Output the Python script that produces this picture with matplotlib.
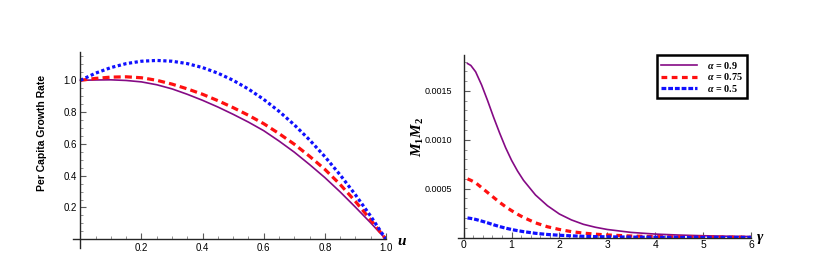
import numpy as np
import matplotlib
matplotlib.use('Agg')
import matplotlib.pyplot as plt
from matplotlib.ticker import FixedLocator, FixedFormatter

plt.rcParams['font.family'] = ['Liberation Sans', 'DejaVu Sans']
plt.rcParams['mathtext.fontset'] = 'custom'
plt.rcParams['mathtext.it'] = 'Liberation Serif:italic:bold'
plt.rcParams['mathtext.rm'] = 'Liberation Serif:bold'
plt.rcParams['mathtext.bf'] = 'Liberation Serif:bold'

# left panel: per capita growth rate vs u
u = [0.0, 0.05, 0.1, 0.15, 0.2, 0.25, 0.3, 0.35, 0.4, 0.45, 0.5,
     0.55, 0.6, 0.65, 0.7, 0.75, 0.8, 0.85, 0.9, 0.95, 1.0]
growth_09 = [1.0, 1.002, 1.003, 0.999, 0.99, 0.972, 0.946, 0.912, 0.874, 0.832, 0.786,
             0.737, 0.683, 0.618, 0.548, 0.47, 0.388, 0.298, 0.202, 0.103, 0.0]
growth_075 = [1.0, 1.012, 1.02, 1.022, 1.016, 1.0, 0.976, 0.946, 0.912, 0.872, 0.828,
              0.78, 0.727, 0.665, 0.598, 0.522, 0.44, 0.345, 0.238, 0.122, 0.0]
growth_05 = [1.0, 1.045, 1.08, 1.105, 1.12, 1.125, 1.12, 1.105, 1.08, 1.045, 1.0,
             0.945, 0.88, 0.805, 0.72, 0.625, 0.52, 0.405, 0.28, 0.145, 0.0]

# right panel: M1 M2 vs gamma (values in units of 1e-4)
gam = [0.08, 0.15, 0.25, 0.375, 0.5, 0.625, 0.75, 0.875, 1.0, 1.125, 1.25, 1.5, 1.75,
       2.0, 2.25, 2.5, 2.75, 3.0, 3.5, 4.0, 4.5, 5.0, 5.5, 6.0]
m_09 = [17.8, 17.6, 16.95, 15.6, 14.0, 12.3, 10.7, 9.2, 7.9, 6.8, 5.85, 4.35, 3.25,
        2.4, 1.8, 1.35, 1.05, 0.82, 0.52, 0.35, 0.25, 0.18, 0.13, 0.10]
m_075 = [6.0, 5.85, 5.6, 5.1, 4.6, 4.1, 3.6, 3.15, 2.75, 2.38, 2.05, 1.5, 1.1,
         0.82, 0.6, 0.45, 0.34, 0.26, 0.15, 0.09, 0.06, 0.04, 0.03, 0.02]
m_05 = [2.0, 1.95, 1.85, 1.68, 1.5, 1.3, 1.12, 0.96, 0.82, 0.7, 0.6, 0.43, 0.31,
        0.23, 0.17, 0.12, 0.09, 0.07, 0.04, 0.025, 0.015, 0.01, 0.007, 0.005]
m_scale = 1e-4

labels = [r'$\alpha$ = 0.9', r'$\alpha$ = 0.75', r'$\alpha$ = 0.5']
purple = '#850a85'
red = '#ff1010'
blue = '#1010ff'

fig = plt.figure(figsize=(8.32, 2.62), dpi=100)


def style_axes(ax):
    for s in ['top', 'right']:
        ax.spines[s].set_visible(False)
    ax.spines['left'].set_position(('data', 0))
    ax.spines['bottom'].set_position(('data', 0))
    for s in ['left', 'bottom']:
        ax.spines[s].set_linewidth(1.0)
        ax.spines[s].set_color('0.15')
    ax.tick_params(which='major', direction='in', length=4, width=0.8, color='0.35')
    ax.tick_params(which='minor', direction='in', length=2.2, width=0.6, color='0.5')
    ax.patch.set_alpha(0)


# ---- left
ax1 = fig.add_axes([0.0881, 0.0523, 0.3758, 0.7504])
ax1.plot(u, growth_09, color=purple, lw=1.2)
ax1.plot(u, growth_075, color=red, lw=2.3, dashes=(2.2, 1.3))
ax1.plot(u, growth_05, color=blue, lw=2.3, dashes=(1.0, 0.8))
ax1.set_xlim(-0.023, 1.0)
ax1.set_ylim(-0.057, 1.18)
style_axes(ax1)
ax1.xaxis.set_major_locator(FixedLocator([0.2, 0.4, 0.6, 0.8, 1.0]))
ax1.yaxis.set_major_locator(FixedLocator([0.2, 0.4, 0.6, 0.8, 1.0]))
ax1.xaxis.set_minor_locator(FixedLocator(np.arange(0.05, 1.0, 0.05)))
ax1.yaxis.set_minor_locator(FixedLocator(np.arange(0.05, 1.18, 0.05)))
ax1.tick_params(axis='x', labelsize=7, pad=2.5)
ax1.tick_params(axis='y', labelsize=7, pad=2.5)
fig.text(42 / 832, 1 - 133 / 262, 'Per Capita Growth Rate', rotation=90,
         fontsize=7.5, fontweight='bold', ha='center', va='center')
fig.text(397 / 832, 1 - 241 / 262, r'$u$', fontsize=11, ha='left', va='center')

# ---- right
ax2 = fig.add_axes([0.5501, 0.0935, 0.3525, 0.6966])
g = np.array(gam)
ax2.plot(g, np.array(m_09) * m_scale, color=purple, lw=1.2, label=labels[0])
ax2.plot(g, np.array(m_075) * m_scale, color=red, lw=2.3, dashes=(1.8, 1.4), label=labels[1])
ax2.plot(g, np.array(m_05) * m_scale, color=blue, lw=2.3, dashes=(1.5, 0.6), label=labels[2])
ax2.set_xlim(-0.125, 6.0)
ax2.set_ylim(0, 0.001867)
style_axes(ax2)
ax2.xaxis.set_major_locator(FixedLocator([0, 1, 2, 3, 4, 5, 6]))
ax2.xaxis.set_minor_locator(FixedLocator(np.arange(0.2, 6.0, 0.2)))
ax2.yaxis.set_major_locator(FixedLocator([0.0005, 0.0010, 0.0015]))
ax2.yaxis.set_major_formatter(FixedFormatter(['0.0005', '0.0010', '0.0015']))
ax2.yaxis.set_minor_locator(FixedLocator(np.arange(0.0001, 0.00186, 0.0001)))
ax2.tick_params(axis='x', labelsize=7.5, pad=1.5)
ax2.tick_params(axis='y', labelsize=6.5, pad=8)
for t in ax2.get_yticklabels():
    t.set_family(['Liberation Sans Narrow', 'Liberation Sans'])
fig.text(418 / 832, 1 - 137 / 262, r'$M_1 M_2$', rotation=90, fontsize=11,
         ha='center', va='center')
fig.text(756 / 832, 1 - 239 / 262, r'$\gamma$', fontsize=11, ha='left', va='center')

leg = ax2.legend(loc='upper left', bbox_to_anchor=(656.7 / 832, 1 - 55 / 262),
                 bbox_transform=fig.transFigure, borderaxespad=0,
                 prop={'family': 'Liberation Serif', 'weight': 'bold', 'size': 7.3},
                 handlelength=3.5, handletextpad=1.0, labelspacing=0.05,
                 borderpad=0.45, fancybox=False, framealpha=1)
leg.get_frame().set_edgecolor('black')
leg.get_frame().set_linewidth(1.8)

fig.savefig('out.png', dpi=100)
